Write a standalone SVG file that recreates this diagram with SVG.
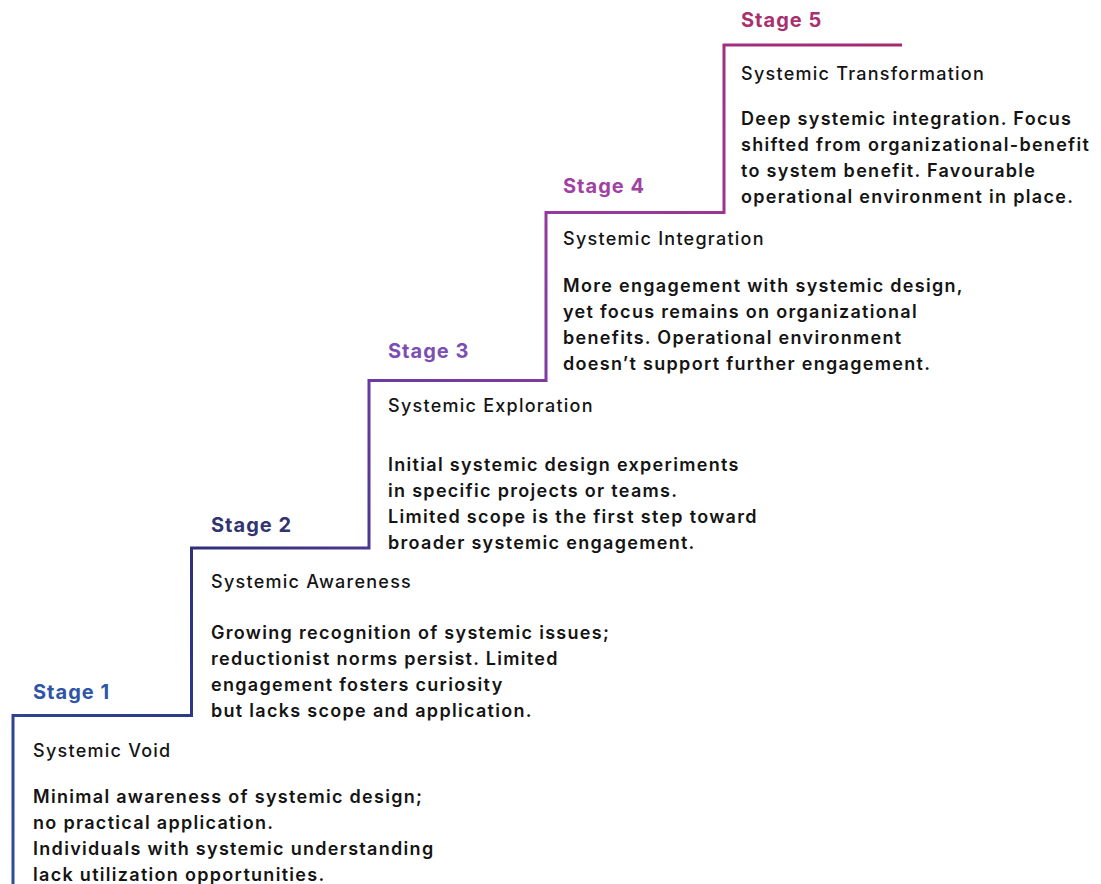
<svg xmlns="http://www.w3.org/2000/svg" width="1101" height="884" viewBox="0 0 1101 884">
  <style>
    .stage { font-family: Inter, "Noto Sans", sans-serif; font-weight: 700; font-size: 20px; letter-spacing: 1px; }
    .title { font-family: Inter, "Noto Sans", sans-serif; font-weight: 500; font-size: 18px; letter-spacing: 1.25px; fill: #141414; }
    .body { font-family: Inter, "Noto Sans", sans-serif; font-weight: 600; font-size: 18px; letter-spacing: 1.3px; fill: #141414; }
    .stair { fill: none; stroke: url(#stairGrad); stroke-width: 3; stroke-linejoin: miter; }
  </style>
  <defs>
    <linearGradient id="stairGrad" gradientUnits="userSpaceOnUse" x1="13" y1="884" x2="902" y2="45">
      <stop offset="0" stop-color="#2b4d9e"/>
      <stop offset="0.3" stop-color="#2f3079"/>
      <stop offset="0.5" stop-color="#6a3ba3"/>
      <stop offset="0.72" stop-color="#983a9c"/>
      <stop offset="1" stop-color="#a5296c"/>
    </linearGradient>
  </defs>
  <rect width="1101" height="884" fill="#ffffff"/>

  <!-- staircase running from stage 1 up to stage 5 -->
  <g id="connectors">
    <path class="stair" d="M13,884 V715.5 H191.5 V548 H369 V380.5 H546 V212.5 H724 V45 H902"/>
  </g>

  <g id="stage1">
    <text class="stage" x="33" y="699" fill="#2e55a6">Stage 1</text>
    <text class="title" x="33" y="757">Systemic Void</text>
    <text class="body" x="33" y="803">Minimal awareness of systemic design;</text>
    <text class="body" x="33" y="829">no practical application.</text>
    <text class="body" x="33" y="855">Individuals with systemic understanding</text>
    <text class="body" x="33" y="881">lack utilization opportunities.</text>
  </g>

  <g id="stage2">
    <text class="stage" x="211" y="532" fill="#31346f">Stage 2</text>
    <text class="title" x="211" y="588">Systemic Awareness</text>
    <text class="body" x="211" y="639">Growing recognition of systemic issues;</text>
    <text class="body" x="211" y="665">reductionist norms persist. Limited</text>
    <text class="body" x="211" y="691">engagement fosters curiosity</text>
    <text class="body" x="211" y="717">but lacks scope and application.</text>
  </g>

  <g id="stage3">
    <text class="stage" x="388" y="358" fill="#7b4fb1">Stage 3</text>
    <text class="title" x="388" y="412">Systemic Exploration</text>
    <text class="body" x="388" y="471">Initial systemic design experiments</text>
    <text class="body" x="388" y="497">in specific projects or teams.</text>
    <text class="body" x="388" y="523">Limited scope is the first step toward</text>
    <text class="body" x="388" y="549">broader systemic engagement.</text>
  </g>

  <g id="stage4">
    <text class="stage" x="563" y="193" fill="#a042a2">Stage 4</text>
    <text class="title" x="563" y="245">Systemic Integration</text>
    <text class="body" x="563" y="292">More engagement with systemic design,</text>
    <text class="body" x="563" y="318">yet focus remains on organizational</text>
    <text class="body" x="563" y="344">benefits. Operational environment</text>
    <text class="body" x="563" y="370">doesn’t support further engagement.</text>
  </g>

  <g id="stage5">
    <text class="stage" x="741" y="27" fill="#a9306f">Stage 5</text>
    <text class="title" x="741" y="80">Systemic Transformation</text>
    <text class="body" x="741" y="125">Deep systemic integration. Focus</text>
    <text class="body" x="741" y="151">shifted from organizational-benefit</text>
    <text class="body" x="741" y="177">to system benefit. Favourable</text>
    <text class="body" x="741" y="203">operational environment in place.</text>
  </g>
</svg>
